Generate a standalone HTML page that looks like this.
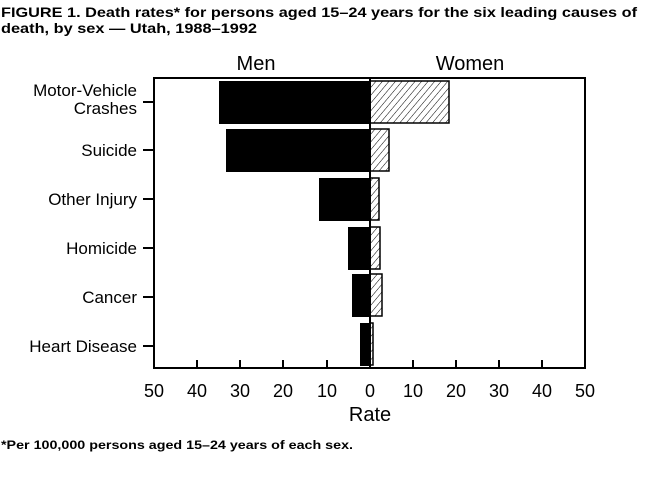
<!DOCTYPE html>
<html><head><style>body{margin:0;background:#fff}svg{display:block}text{font-family:"Liberation Sans",Arial,sans-serif;fill:#000}</style></head><body>
<svg width="663" height="477" viewBox="0 0 663 477" xmlns="http://www.w3.org/2000/svg">
<defs><pattern id="h" width="5" height="5" patternUnits="userSpaceOnUse" patternTransform="rotate(40)"><rect width="5" height="5" fill="#fff"/><line x1="0" y1="0" x2="0" y2="5" stroke="#000" stroke-width="1"/></pattern></defs>
<text x="1" y="17" font-size="14" font-weight="bold" textLength="636" lengthAdjust="spacingAndGlyphs">FIGURE 1. Death rates* for persons aged 15–24 years for the six leading causes of</text>
<text x="1" y="33" font-size="14" font-weight="bold" textLength="256" lengthAdjust="spacingAndGlyphs">death, by sex — Utah, 1988–1992</text>
<text x="256" y="70" font-size="20" text-anchor="middle">Men</text>
<text x="470" y="70" font-size="20" text-anchor="middle">Women</text>
<g fill="#000">
<rect x="219" y="81" width="151" height="43"/>
<rect x="226" y="129" width="144" height="43"/>
<rect x="319" y="178" width="51" height="43"/>
<rect x="348" y="227" width="22" height="43"/>
<rect x="352" y="274" width="18" height="43"/>
<rect x="360" y="323" width="10" height="43"/>
</g>
<g fill="url(#h)" stroke="#000" stroke-width="1.5">
<rect x="370" y="81" width="79" height="42"/>
<rect x="370" y="129" width="19" height="42"/>
<rect x="370" y="178" width="9" height="42"/>
<rect x="370" y="227" width="10" height="42"/>
<rect x="370" y="274" width="12" height="42"/>
<rect x="370" y="323" width="3" height="42"/>
</g>
<rect x="154" y="78" width="431" height="290" fill="none" stroke="#000" stroke-width="2"/>
<line x1="370" y1="77" x2="370" y2="368" stroke="#000" stroke-width="2"/>
<g stroke="#000" stroke-width="2">
<line x1="143" y1="102" x2="154" y2="102"/><line x1="143" y1="150" x2="154" y2="150"/>
<line x1="143" y1="199" x2="154" y2="199"/><line x1="143" y1="248" x2="154" y2="248"/>
<line x1="143" y1="297" x2="154" y2="297"/><line x1="143" y1="346" x2="154" y2="346"/>
<line x1="197" y1="360" x2="197" y2="368"/><line x1="240" y1="360" x2="240" y2="368"/>
<line x1="283" y1="360" x2="283" y2="368"/><line x1="327" y1="360" x2="327" y2="368"/>
<line x1="413" y1="360" x2="413" y2="368"/><line x1="456" y1="360" x2="456" y2="368"/>
<line x1="499" y1="360" x2="499" y2="368"/><line x1="542" y1="360" x2="542" y2="368"/>
</g>
<g font-size="17" text-anchor="end">
<text x="137" y="96">Motor-Vehicle</text><text x="137" y="114">Crashes</text>
<text x="137" y="156">Suicide</text>
<text x="137" y="205">Other Injury</text>
<text x="137" y="254">Homicide</text>
<text x="137" y="303">Cancer</text>
<text x="137" y="352">Heart Disease</text>
</g>
<g font-size="18" text-anchor="middle">
<text x="154" y="397">50</text><text x="197" y="397">40</text><text x="240" y="397">30</text><text x="283" y="397">20</text><text x="327" y="397">10</text><text x="370" y="397">0</text><text x="413" y="397">10</text><text x="456" y="397">20</text><text x="499" y="397">30</text><text x="542" y="397">40</text><text x="585" y="397">50</text>
</g>
<text x="370" y="421" font-size="20" text-anchor="middle">Rate</text>
<text x="1" y="449" font-size="12" font-weight="bold" textLength="352" lengthAdjust="spacingAndGlyphs">*Per 100,000 persons aged 15–24 years of each sex.</text>
</svg>
</body></html>
